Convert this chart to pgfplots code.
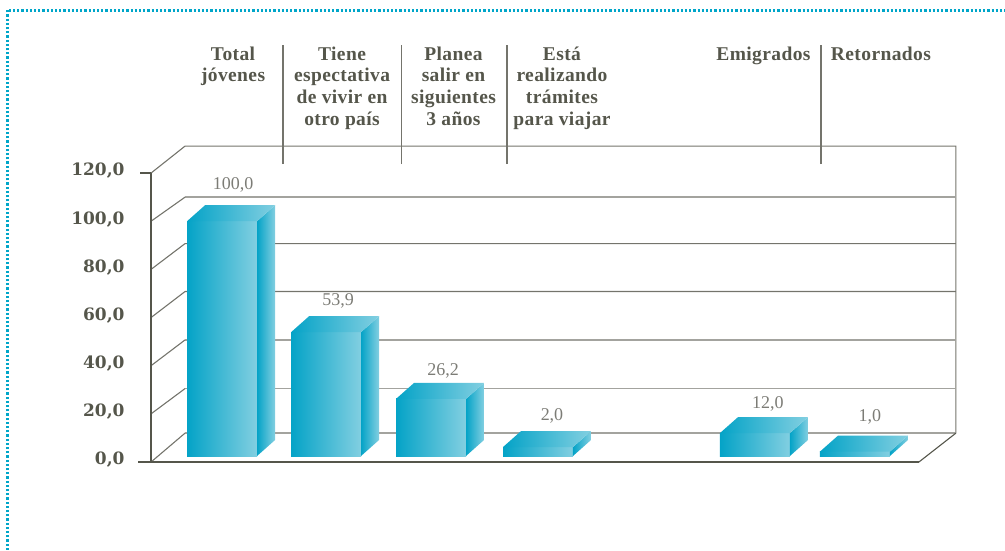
\documentclass[border=0pt]{standalone}
\usepackage{pgfplots}
\usepackage{pgfplotstable}
\usepackage{fontspec}
\pgfplotsset{compat=1.18}
\setmainfont{Liberation Serif}
\newfontfamily\headfont[LetterSpace=2]{Liberation Serif}
\newfontfamily\tickfont{DejaVu Serif}
\definecolor{txt}{HTML}{55564B}
\definecolor{val}{HTML}{7C7C76}
\definecolor{gridA}{HTML}{74746C}
\definecolor{gridB}{HTML}{A3A39E}
\definecolor{cyanL}{HTML}{04A3C7}
\definecolor{cyanR}{HTML}{82CFE1}
\definecolor{frameC}{HTML}{00A6C9}
\pgfplotstableread{
x   ypos  value
233 115.0 100.0
338 66.9  53.9
443 37.8  26.2
552 19.1  2.0
768 24.1  12.0
870 18.7  1.0
}\labelstable
\newcommand\boxbar[2]{%
  \pgfmathsetmacro\xa{#1}\pgfmathsetmacro\xb{#1+70}\pgfmathsetmacro\xc{#1+88}\pgfmathsetmacro\xd{#1+18}%
  \pgfmathsetmacro\yt{#2}\pgfmathsetmacro\ytb{#2+6.64}\pgfmathsetmacro\ybb{2.49+6.64}%
  \addplot[draw=none,left color=cyanL,right color=cyanR] coordinates {(\xa,2.49) (\xb,2.49) (\xb,\yt) (\xa,\yt)} --cycle;
  \addplot[draw=none,left color=cyanL,right color=cyanR] coordinates {(\xb,2.49) (\xc,\ybb) (\xc,\ytb) (\xb,\yt)} --cycle;
  \addplot[draw=none,left color=cyanL,right color=cyanR] coordinates {(\xa,\yt) (\xb,\yt) (\xc,\ytb) (\xd,\ytb)} --cycle;
}
\begin{document}
\begin{tikzpicture}
\begin{axis}[
  scale only axis, width=1005pt, height=550pt,
  xmin=0, xmax=1005, ymin=-36.54, ymax=191.83,
  axis line style={draw=none},
  major tick length=0pt,
  ytick={0,20,...,120},
  /pgf/number format/.cd, fixed, fixed zerofill, precision=1, use comma, assume math mode=true,
  /pgfplots/.cd,
  y tick label style={font=\tickfont\bfseries\fontsize{17}{20}\selectfont, text=txt, anchor=east, xshift=128pt, yshift=2pt},
  xtick={233,342,453.5,562,763.5,881},
  xticklabel pos=upper,
  xticklabels={{Total\\jóvenes},{Tiene\\espectativa\\de vivir en\\otro país},{Planea\\salir en\\siguientes\\3 años},{Está\\realizando\\trámites\\para viajar},{Emigrados},{Retornados}},
  x tick label style={font=\headfont\bfseries\fontsize{19.5}{21.7}\selectfont, text=txt, align=center, anchor=north, yshift=-43pt},
]
% dotted frame
\addplot[frameC, line width=3pt, dash pattern=on 2.2pt off 2pt] coordinates {(7,-36.54) (7,187.68) (1005,187.68)};
% walls and grid
\addplot[gridA, line width=1.1pt] coordinates {(151,120) (185,131.2) (956,131.2) (956,12.0)};
\addplot[gridB, line width=1.6pt] coordinates {(185,110.0) (956,110.0)};
\addplot[gridA, line width=1.1pt] coordinates {(151,100) (185,110.0)};
\addplot[gridA, line width=1.1pt] coordinates {(151,80) (185,90.7) (956,90.7)};
\addplot[gridA, line width=1.1pt] coordinates {(151,60) (185,70.8) (956,70.8)};
\addplot[gridB, line width=1.5pt] coordinates {(185,50.7) (956,50.7)};
\addplot[gridA, line width=1.1pt] coordinates {(151,40) (185,50.7)};
\addplot[gridB, line width=1.5pt] coordinates {(185,30.5) (956,30.5)};
\addplot[gridA, line width=1.1pt] coordinates {(151,20) (185,30.5)};
\addplot[gridB, line width=1.5pt] coordinates {(185,12.0) (956,12.0)};
\addplot[gridA, line width=1.1pt] coordinates {(151,0) (185,12.0)};
\addplot[txt, line width=1.1pt] coordinates {(956,12.0) (919,0)};
\addplot[txt, line width=1.3pt] coordinates {(138,0) (919,0)};
\addplot[txt, line width=1.2pt] coordinates {(151,0) (151,120)};
\addplot[txt, line width=1.2pt] coordinates {(140,120) (151,120)};
% separators
\addplot[gridA, line width=1.2pt] coordinates {(283,123.7) (283,173)};
\addplot[gridA, line width=1.2pt] coordinates {(401.5,123.7) (401.5,173)};
\addplot[gridA, line width=1.2pt] coordinates {(507,123.7) (507,173)};
\addplot[gridA, line width=1.2pt] coordinates {(821,123.7) (821,173)};
% bars
\boxbar{187}{100}
\boxbar{291}{53.9}
\boxbar{396}{26.2}
\boxbar{503}{6.2}
\boxbar{720}{12}
\boxbar{820}{4.3}
% value labels
\addplot[only marks, mark=none, point meta=explicit,
  nodes near coords={\pgfmathprintnumber[fixed,fixed zerofill,precision=1,use comma,assume math mode=true]{\pgfplotspointmeta}},
  nodes near coords style={anchor=center, font=\fontsize{18}{20}\selectfont, text=val}]
  table[x=x,y=ypos,meta=value] {\labelstable};
\end{axis}
\end{tikzpicture}
\end{document}
